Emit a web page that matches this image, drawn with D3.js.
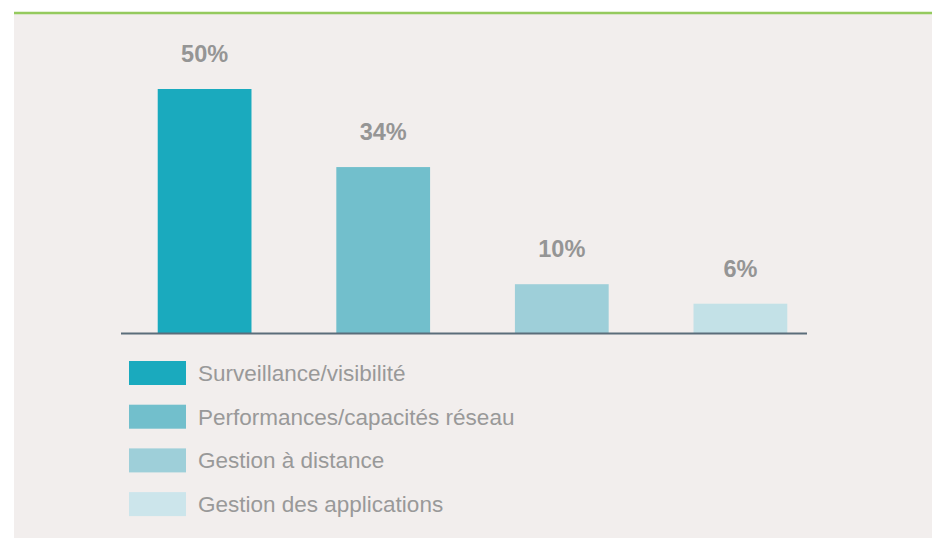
<!DOCTYPE html>
<html>
<head>
<meta charset="utf-8">
<script src="https://cdn.jsdelivr.net/npm/d3@7/dist/d3.min.js"></script>
<style>
  html, body { margin: 0; padding: 0; background: #ffffff; }
  svg { display: block; }
</style>
</head>
<body>
<svg id="chart" width="932" height="538"></svg>
<script>
// data
const categories = ['Surveillance/visibilité', 'Performances/capacités réseau', 'Gestion à distance', 'Gestion des applications'];
const values = [50, 34, 10, 6];
const labels = ['50%', '34%', '10%', '6%'];
const colors = ['#1aaabe', '#72bfcc', '#9ecfd9', '#c3e1e7'];
const legendColors = ['#1aaabe', '#72bfcc', '#9ecfd9', '#cce5eb'];

const width = 932, height = 538;
const svg = d3.select('#chart');

// background panel + green rule on top
svg.append('rect')
  .attr('x', 14).attr('y', 13)
  .attr('width', width - 14).attr('height', height - 13)
  .attr('fill', '#f2eeed');
svg.append('line')
  .attr('x1', 14).attr('x2', width)
  .attr('y1', 13).attr('y2', 13)
  .attr('stroke', '#95ca5e')
  .attr('stroke-width', 2.5);

// scales
const baseY = 333;
const xScale = d3.scaleBand()
  .domain(categories)
  .range([122, 823])
  .paddingInner(0.475)
  .paddingOuter(0.2);

const yScale = d3.scaleLinear()
  .domain([0, 50])
  .range([baseY, 89]);

// bars
svg.append('g')
  .selectAll('rect')
  .data(categories)
  .join('rect')
    .attr('x', d => xScale(d))
    .attr('y', (d, i) => yScale(values[i]))
    .attr('width', xScale.bandwidth())
    .attr('height', (d, i) => baseY - yScale(values[i]))
    .attr('fill', (d, i) => colors[i]);

// value labels
svg.append('g')
  .selectAll('text')
  .data(categories)
  .join('text')
    .attr('x', d => xScale(d) + xScale.bandwidth() / 2)
    .attr('y', (d, i) => yScale(values[i]) - 27)
    .attr('text-anchor', 'middle')
    .style('font-family', '"Liberation Sans", Arial, sans-serif')
    .style('font-weight', 'bold')
    .style('font-size', '23.5px')
    .attr('fill', '#959595')
    .text((d, i) => labels[i]);

// baseline axis
svg.append('line')
  .attr('x1', 121).attr('x2', 807)
  .attr('y1', baseY + 0.5).attr('y2', baseY + 0.5)
  .attr('stroke', '#5b6d7a')
  .attr('stroke-width', 2);

// legend
const legend = svg.append('g')
  .selectAll('g')
  .data(categories)
  .join('g')
    .attr('transform', (d, i) => 'translate(129,' + (361 + i * 43.7) + ')');

legend.append('rect')
  .attr('width', 57)
  .attr('height', 24)
  .attr('fill', (d, i) => legendColors[i]);

legend.append('text')
  .attr('x', 69)
  .attr('y', 12)
  .attr('dy', '0.36em')
  .style('font-family', '"Liberation Sans", Arial, sans-serif')
  .style('font-size', '22.5px')
  .attr('fill', '#999999')
  .text(d => d);
</script>
</body>
</html>
